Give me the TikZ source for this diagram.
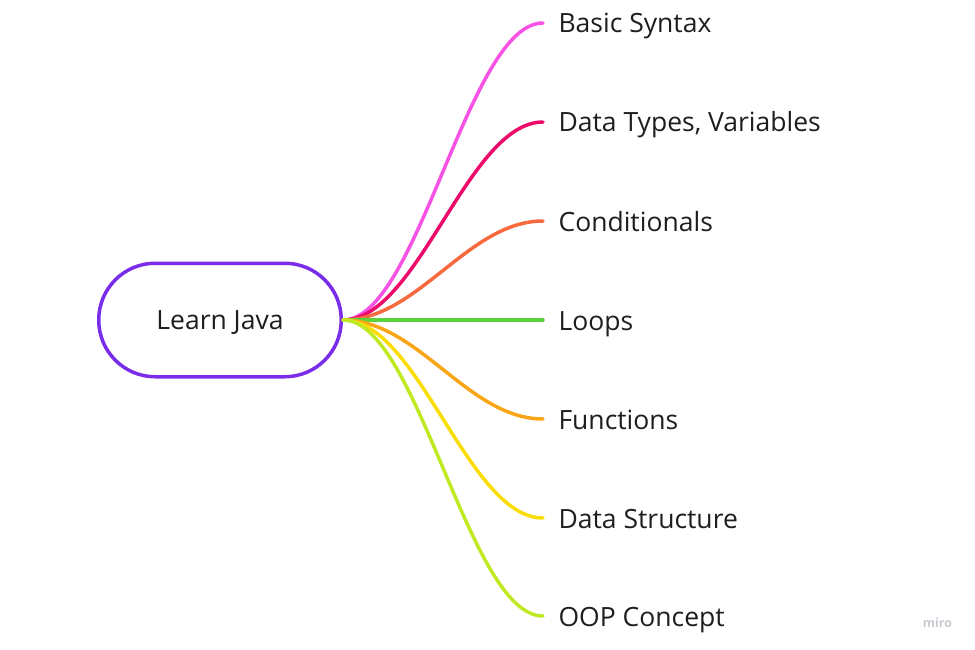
\documentclass[tikz,border=0pt]{standalone}
\usepackage{fontspec}
\setmainfont{Open Sans}
\definecolor{ink}{HTML}{1E1E1E}
\definecolor{rootline}{HTML}{7A2CEA}
\definecolor{basic}{HTML}{F652E4}
\definecolor{types}{HTML}{EC0A6B}
\definecolor{cond}{HTML}{F66A3E}
\definecolor{loops}{HTML}{5BD13A}
\definecolor{func}{HTML}{F8A617}
\definecolor{struct}{HTML}{FADD07}
\definecolor{oop}{HTML}{BFE923}
\definecolor{markgray}{HTML}{C9CAD2}

\begin{document}
\begin{tikzpicture}[x=1pt,y=-1pt,every node/.style={font=\fontsize{26.5}{30}\selectfont,text=ink},
  branch/.style={line width=3.5pt,line cap=round}]
\useasboundingbox (0,0) rectangle (975,650);
\node[draw=rootline,line width=3.5pt,rounded corners=56.5pt,minimum width=242.5pt,minimum height=113.5pt,
  text height=19pt,text depth=0pt] (root) at (220,320) {Learn Java};
\foreach \i/\y/\col/\txt in {1/23/basic/Basic Syntax,2/122/types/{Data Types, Variables},3/221/cond/Conditionals,
  4/320/loops/Loops,5/419/func/Functions,6/518/struct/Data Structure,7/616/oop/OOP Concept}{
  \coordinate (e\i) at (543,\y);
  \draw[branch,\col] (root.east) .. controls +(75,0) and +(-75,0) .. (e\i);
  \node[anchor=base west] (t\i) at (555,\y+10) {\txt};
}
\node[font=\bfseries\fontsize{12.5}{14}\selectfont,text=markgray] (mark) at (937.5,623) {miro};
\end{tikzpicture}
\end{document}
